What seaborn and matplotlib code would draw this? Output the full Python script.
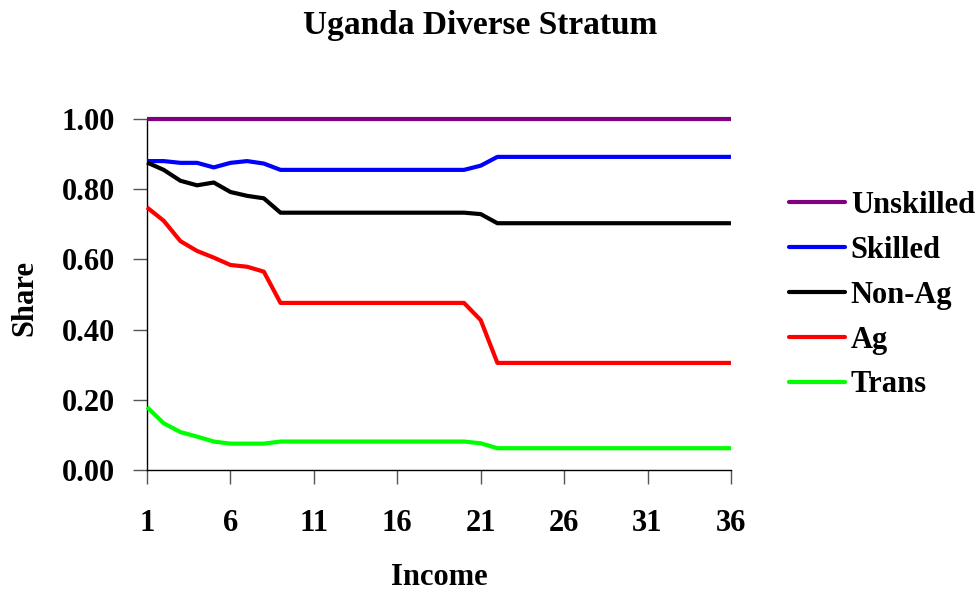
import numpy as np
import pandas as pd
import matplotlib
matplotlib.use("Agg")
import matplotlib.pyplot as plt
import seaborn as sns

# income groups on the x axis
income = list(range(1, 37))

unskilled = [1.000] * 36
skilled = [0.880, 0.880, 0.875, 0.875, 0.862, 0.875, 0.880, 0.873,
           0.855, 0.855, 0.855, 0.855, 0.855, 0.855, 0.855, 0.855, 0.855, 0.855, 0.855, 0.855,
           0.867,
           0.892, 0.892, 0.892, 0.892, 0.892, 0.892, 0.892, 0.892, 0.892, 0.892, 0.892, 0.892,
           0.892, 0.892, 0.892]
non_ag = [0.876, 0.855, 0.824, 0.811, 0.819, 0.792, 0.781, 0.774,
          0.733, 0.733, 0.733, 0.733, 0.733, 0.733, 0.733, 0.733, 0.733, 0.733, 0.733, 0.733,
          0.729,
          0.703, 0.703, 0.703, 0.703, 0.703, 0.703, 0.703, 0.703, 0.703, 0.703, 0.703, 0.703,
          0.703, 0.703, 0.703]
ag = [0.748, 0.710, 0.652, 0.624, 0.605, 0.584, 0.579, 0.565,
      0.476, 0.476, 0.476, 0.476, 0.476, 0.476, 0.476, 0.476, 0.476, 0.476, 0.476, 0.476,
      0.427,
      0.305, 0.305, 0.305, 0.305, 0.305, 0.305, 0.305, 0.305, 0.305, 0.305, 0.305, 0.305,
      0.305, 0.305, 0.305]
trans = [0.179, 0.133, 0.108, 0.095, 0.081, 0.075, 0.075, 0.075,
         0.081, 0.081, 0.081, 0.081, 0.081, 0.081, 0.081, 0.081, 0.081, 0.081, 0.081, 0.081,
         0.076,
         0.062, 0.062, 0.062, 0.062, 0.062, 0.062, 0.062, 0.062, 0.062, 0.062, 0.062, 0.062,
         0.062, 0.062, 0.062]

series_names = ["Unskilled", "Skilled", "Non-Ag", "Ag", "Trans"]
series_colors = ["#800080", "#0000FF", "#000000", "#FF0000", "#00FF00"]
x_ticks = [1, 6, 11, 16, 21, 26, 31, 36]
y_ticks = [0.0, 0.2, 0.4, 0.6, 0.8, 1.0]

sns.set_style("white")
plt.rcParams["font.family"] = ["Liberation Serif", "DejaVu Serif"]
plt.rcParams["font.weight"] = "bold"
plt.rcParams["text.color"] = "black"
plt.rcParams["xtick.color"] = "black"
plt.rcParams["ytick.color"] = "black"

frames = []
for name, vals in zip(series_names, [unskilled, skilled, non_ag, ag, trans]):
    frames.append(pd.DataFrame({"Income": income, "Share": vals, "series": name}))
df = pd.concat(frames, ignore_index=True)

fig = plt.figure(figsize=(9.75, 5.94), dpi=100)
ax = fig.add_axes([0.1508, 0.2088, 0.5989, 0.5909])

sns.lineplot(data=df, x="Income", y="Share", hue="series", hue_order=series_names,
             palette=series_colors, linewidth=3, ax=ax, legend=False)
for line in ax.get_lines():
    line.set_clip_on(False)
    line.set_solid_capstyle("butt")

ax.set_xlim(1, 36)
ax.set_ylim(0, 1.0)
ax.set_xticks(x_ticks)
ax.set_yticks(y_ticks)
ax.set_yticklabels([f"{v:.2f}" for v in y_ticks])
ax.tick_params(axis="both", labelsize=22, length=10, width=1, direction="out",
               bottom=True, left=True, colors="black")
ax.tick_params(axis="x", pad=18, color="#555555")
ax.tick_params(axis="y", pad=13, color="#555555")
for lab in ax.get_xticklabels() + ax.get_yticklabels():
    lab.set_fontweight("bold")

for side in ["top", "right"]:
    ax.spines[side].set_visible(False)
for side in ["left", "bottom"]:
    ax.spines[side].set_color("black")
    ax.spines[side].set_linewidth(1)
    ax.spines[side].set_zorder(1)

ax.set_xlabel("")
ax.set_ylabel("")
fig.text(0.026, 0.498, "Share", rotation=90, ha="center", va="center",
         fontsize=22, fontweight="bold")
fig.text(0.451, 0.027, "Income", ha="center", va="center",
         fontsize=22, fontweight="bold")
fig.text(0.492, 0.957, "Uganda Diverse Stratum", ha="center", va="center",
         fontsize=24, fontweight="bold")

handles = [plt.Line2D([], [], color=c, linewidth=3) for c in series_colors]
ax.legend(handles, series_names, loc="center left", bbox_to_anchor=(0.809, 0.503),
          bbox_transform=fig.transFigure, frameon=False,
          prop={"weight": "bold", "size": 22}, handlelength=1.83, handletextpad=0.2,
          labelspacing=0.52, borderpad=0, borderaxespad=0)

fig.savefig("out.png", dpi=100)
